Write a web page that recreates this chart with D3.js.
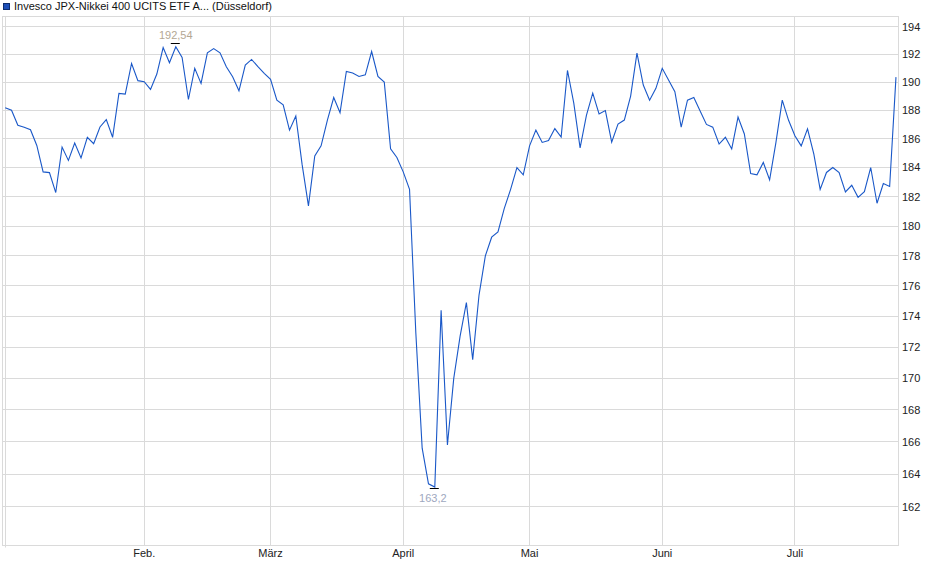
<!DOCTYPE html>
<html>
<head>
<meta charset="utf-8">
<style>
  html, body { margin: 0; padding: 0; background: #fff; }
  svg { display: block; font-family: "Liberation Sans", Arial, sans-serif; font-size: 11px; }
</style>
</head>
<body>
<svg id="chart" width="940" height="579"></svg>
<script src="https://cdn.jsdelivr.net/npm/d3@7"></script>
<script>
// Daily closes, one per trading day (2 Jan .. 23 Jul).
const title = 'Invesco JPX-Nikkei 400 UCITS ETF A... (Düsseldorf)';

const closes = [
  188.17, 188.0, 186.94, 186.8, 186.63, 185.53, 183.7, 183.65, 182.28, 185.42,
  184.49, 185.7, 184.67, 186.1, 185.65, 186.82, 187.34, 186.1, 189.19, 189.14,
  191.33, 190.1, 190.02, 189.48, 190.57, 192.48, 191.38, 192.54, 191.76, 188.76,
  190.98, 189.9, 192.1, 192.4, 192.1, 191.1, 190.38, 189.38, 191.21, 191.62,
  191.1, 190.62, 190.19, 188.71, 188.38, 186.6, 187.6, 184.2, 181.37, 184.8,
  185.5, 187.3, 188.9, 187.83, 190.76, 190.64, 190.4, 190.52, 192.19, 190.4,
  190.0, 185.3, 184.7, 183.7, 182.5, 172.9, 165.6, 163.4, 163.2, 174.4,
  165.8, 170.0, 172.7, 174.9, 171.2, 175.4, 178.0, 179.25, 179.6, 181.2,
  182.5, 184.0, 183.5, 185.5, 186.6, 185.74, 185.88, 186.71, 186.12, 190.83,
  188.5, 185.36, 187.64, 189.21, 187.74, 187.98, 185.76, 187.02, 187.31, 189.0,
  192.07, 189.79, 188.71, 189.55, 190.98, 190.14, 189.31, 186.81, 188.71, 188.9,
  187.95, 187.0, 186.81, 185.63, 186.1, 185.29, 187.52, 186.33, 183.59, 183.5,
  184.35, 183.15, 185.75, 188.71, 187.29, 186.21, 185.5, 186.69, 184.93, 182.5,
  183.66, 184.0, 183.66, 182.32, 182.78, 181.95, 182.34, 184.0, 181.55, 182.9,
  182.7, 190.35
];

// First trading day of each month (index into closes) and its label.
const monthStarts = [0, 22, 42, 63, 83, 104, 125];
const monthLabels = ['', 'Feb.', 'März', 'April', 'Mai', 'Juni', 'Juli'];

const yTicks = [162, 164, 166, 168, 170, 172, 174, 176, 178, 180, 182, 184, 186, 188, 190, 192, 194];

const COL = {
  line: '#1a58c8',
  grid: '#dadada',
  ink: '#222',
  high: '#b3a794',
  low: '#9ea8c0',
};

const frame = { left: 2.5, right: 898.5, top: 16.5, bottom: 545.5 };
const crisp = (v) => Math.floor(v) + 0.5;

const svg = d3.select('#chart');

const x = d3.scaleLinear()
  .domain([-0.43, closes.length - 1 + 0.4])
  .range([frame.left, frame.right]);

// price axis is logarithmic in the reference
const y = d3.scaleLog()
  .domain([159.69, 194.77])
  .range([545, 16]);

// title + legend swatch
svg.append('rect')
  .attr('x', 3.5).attr('y', 3.5).attr('width', 6).attr('height', 6)
  .attr('fill', '#1d4fb8').attr('stroke', '#0e2d6e').attr('stroke-width', 1);
svg.append('text')
  .attr('x', 14).attr('y', 10)
  .style('fill', '#111')
  .text(title);

// horizontal grid + right tick labels
const yg = svg.append('g').attr('class', 'y-grid');
yg.selectAll('line').data(yTicks).join('line')
  .attr('x1', frame.left).attr('x2', frame.right)
  .attr('y1', (d) => crisp(y(d))).attr('y2', (d) => crisp(y(d)))
  .style('stroke', COL.grid).attr('stroke-width', 1);
yg.selectAll('text').data(yTicks).join('text')
  .attr('x', 902).attr('y', (d) => y(d)).attr('dy', '0.36em')
  .style('fill', COL.ink)
  .text((d) => d);

// month grid lines + labels
const xg = svg.append('g').attr('class', 'x-grid');
xg.selectAll('line').data(monthStarts).join('line')
  .attr('x1', (d) => crisp(x(d))).attr('x2', (d) => crisp(x(d)))
  .attr('y1', frame.top).attr('y2', (d, i) => (i === 0 ? frame.bottom + 2 : frame.bottom))
  .style('stroke', COL.grid).attr('stroke-width', 1);
xg.selectAll('text').data(monthStarts).join('text')
  .attr('x', (d) => x(d)).attr('y', 557).attr('text-anchor', 'middle')
  .style('fill', COL.ink)
  .text((d, i) => monthLabels[i]);

// plot frame
svg.append('rect')
  .attr('x', frame.left).attr('y', frame.top)
  .attr('width', frame.right - frame.left).attr('height', frame.bottom - frame.top)
  .attr('fill', 'none').style('stroke', COL.grid).attr('stroke-width', 1);

// price line
svg.append('path')
  .datum(closes)
  .attr('fill', 'none')
  .attr('stroke', COL.line)
  .attr('stroke-width', 1.1)
  .attr('stroke-linejoin', 'miter')
  .attr('d', d3.line().x((d, i) => x(i)).y((d) => y(d)));

// high / low markers
const fmt = (v) => String(v).replace('.', ',');
const hi = d3.maxIndex(closes);
const lo = d3.minIndex(closes);

const marks = svg.append('g').attr('class', 'extremes');
marks.append('line')
  .attr('x1', x(hi) - 5).attr('x2', x(hi) + 4)
  .attr('y1', crisp(y(closes[hi]) - 3)).attr('y2', crisp(y(closes[hi]) - 3))
  .attr('stroke', '#000').attr('stroke-width', 1);
marks.append('text')
  .attr('x', x(hi)).attr('y', y(closes[hi]) - 7.5).attr('text-anchor', 'middle')
  .style('fill', COL.high)
  .text(fmt(closes[hi]));

marks.append('line')
  .attr('x1', x(lo) - 5).attr('x2', x(lo) + 4)
  .attr('y1', crisp(y(closes[lo]) + 1)).attr('y2', crisp(y(closes[lo]) + 1))
  .attr('stroke', '#000').attr('stroke-width', 1);
marks.append('text')
  .attr('x', x(lo) - 2).attr('y', y(closes[lo]) + 15).attr('text-anchor', 'middle')
  .style('fill', COL.low)
  .text(fmt(closes[lo]));
</script>
</body>
</html>
